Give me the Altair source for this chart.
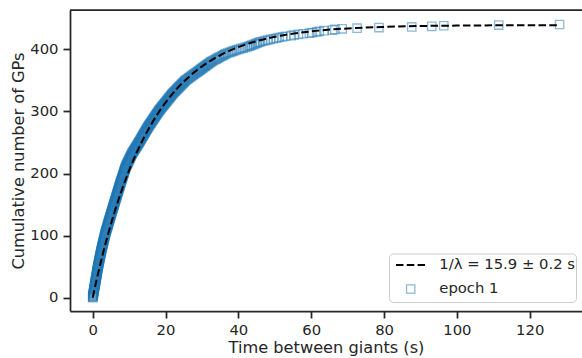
import altair as alt
import pandas as pd

# Sorted waiting times between giant pulses (s)
gap_times = [
    0.00, 0.02, 0.05, 0.08, 0.11, 0.14, 0.17, 0.20, 0.23, 0.26,
    0.29, 0.32, 0.35, 0.38, 0.41, 0.43, 0.46, 0.49, 0.52, 0.55,
    0.58, 0.61, 0.64, 0.67, 0.70, 0.72, 0.75, 0.78, 0.81, 0.84,
    0.87, 0.90, 0.93, 0.96, 0.99, 1.01, 1.04, 1.07, 1.10, 1.13,
    1.16, 1.19, 1.22, 1.25, 1.28, 1.30, 1.33, 1.36, 1.39, 1.42,
    1.45,
    1.49, 1.52, 1.56, 1.59, 1.63, 1.66, 1.70, 1.73, 1.77, 1.80,
    1.84, 1.87, 1.91, 1.94, 1.98, 2.01, 2.05, 2.08, 2.12, 2.15,
    2.19, 2.22, 2.26, 2.29, 2.33, 2.36, 2.40,
    2.44, 2.48, 2.52, 2.56, 2.60, 2.64, 2.68, 2.72, 2.76, 2.81,
    2.85, 2.89, 2.93, 2.97, 3.01, 3.05, 3.09, 3.13, 3.17, 3.21,
    3.25, 3.29, 3.33, 3.37, 3.42, 3.46, 3.50,
    3.55, 3.60, 3.65, 3.70, 3.75, 3.80, 3.85, 3.90, 3.95, 4.00,
    4.05, 4.10, 4.15, 4.20, 4.25, 4.30, 4.35, 4.40, 4.45, 4.50,
    4.55, 4.60, 4.65, 4.70, 4.75, 4.80,
    4.85, 4.90, 4.96, 5.01, 5.06, 5.11, 5.16, 5.21, 5.27, 5.32,
    5.37, 5.42, 5.47, 5.52, 5.58, 5.63, 5.68, 5.73, 5.78, 5.83,
    5.89, 5.94, 5.99, 6.04, 6.09, 6.15, 6.20,
    6.25, 6.30, 6.36, 6.41, 6.46, 6.51, 6.56, 6.61, 6.67, 6.72,
    6.77, 6.82, 6.87, 6.92, 6.98, 7.03, 7.08, 7.13, 7.18, 7.23,
    7.29, 7.34, 7.39, 7.44, 7.49, 7.55, 7.60,
    7.66, 7.71, 7.77, 7.82, 7.88, 7.93, 7.99, 8.04, 8.10, 8.16,
    8.21, 8.27, 8.32, 8.38, 8.43, 8.49, 8.54, 8.60, 8.66, 8.71,
    8.77, 8.82, 8.88, 8.93, 8.99, 9.04, 9.10,
    9.18, 9.26, 9.34, 9.42, 9.50, 9.58, 9.67, 9.75, 9.83, 9.91,
    9.99, 10.07, 10.15, 10.23, 10.31, 10.39, 10.48, 10.56, 10.64, 10.72,
    10.80,
    10.91, 11.01, 11.12, 11.22, 11.33, 11.44, 11.54, 11.65, 11.75, 11.86,
    11.96, 12.07, 12.18, 12.28, 12.39, 12.49, 12.60,
    12.70, 12.80, 12.90, 13.00, 13.10, 13.20, 13.30, 13.40, 13.50, 13.60,
    13.70, 13.80, 13.90, 14.00, 14.10, 14.20, 14.30, 14.40, 14.50, 14.60,
    14.70, 14.80, 14.90, 15.00, 15.10, 15.20,
    15.31, 15.43, 15.54, 15.66, 15.77, 15.89, 16.00, 16.12, 16.23, 16.35,
    16.46, 16.58, 16.69, 16.81, 16.92, 17.04, 17.15, 17.27, 17.38, 17.50,
    17.61, 17.73, 17.84, 17.96, 18.07, 18.19, 18.30,
    18.44, 18.57, 18.71, 18.85, 18.98, 19.12, 19.26, 19.40, 19.53, 19.67,
    19.81, 19.94, 20.08, 20.22, 20.36, 20.49, 20.63, 20.77, 20.90, 21.04,
    21.18, 21.32, 21.45, 21.59, 21.73, 21.86, 22.00,
    22.17, 22.33, 22.50, 22.67, 22.83, 23.00, 23.17, 23.33, 23.50, 23.67,
    23.83, 24.00, 24.17, 24.33, 24.50, 24.67, 24.83, 25.00, 25.17, 25.33,
    25.50,
    25.7, 26.0, 26.2, 26.4, 26.7, 26.9, 27.1, 27.4, 27.6, 27.8,
    28.1, 28.3, 28.6, 28.8, 29.0, 29.3, 29.5,
    29.7, 30.0, 30.2, 30.4, 30.7, 30.9, 31.1, 31.4, 31.6, 31.8,
    32.1, 32.3, 32.5,
    32.8, 33.1, 33.5, 33.8, 34.1, 34.4, 34.7, 35.0, 35.4, 35.7,
    36.0, 36.3, 36.6,
    37.1, 37.6, 38.1, 38.5, 39.0, 39.5,
    40.1, 40.7, 41.3, 41.9, 42.5,
    43.0, 43.4, 43.8, 44.3, 44.7, 45.1, 45.6, 46.0,
    46.7, 47.4, 48.1, 48.8, 49.6, 50.4, 51.2,
    52.1, 53.0, 54.5, 55.3, 56.5, 57.8, 59.5, 60.3, 61.5, 62.2,
    63.5, 65.8, 66.5, 68.5, 72.6, 78.6, 87.6, 93.1, 96.4, 111.5,
    128.2,
]
cumulative_counts = list(range(len(gap_times)))

# Exponential fit curve (1/lambda = 15.9 s)
fit_t = [0, 1, 2, 3, 4, 5, 6, 8, 10, 12, 14, 16, 18, 20, 23, 26, 30, 35,
         40, 45, 50, 60, 70, 80, 100, 128]
fit_n = [0, 26.8, 51.9, 75.5, 97.6, 118.4, 138.0, 173.6, 204.9, 232.6,
         257.0, 278.5, 297.5, 314.2, 335.7, 353.4, 372.4, 390.4, 403.5,
         413.1, 420.1, 428.9, 433.6, 436.1, 438.2, 438.9]

x_ticks = [0, 20, 40, 60, 80, 100, 120]
y_ticks = [0, 100, 200, 300, 400]
legend_labels = ["1/λ = 15.9 ± 0.2 s", "epoch 1"]

INK = "#262626"
BLUE = "#1f77b4"
W, H = 512, 301

pts = pd.DataFrame({"t": gap_times, "n": cumulative_counts})
fit = pd.DataFrame({"t": fit_t, "n": fit_n})
one = pd.DataFrame({"a": [0]})

xs = alt.Scale(domain=[-6.23, 134.35], nice=False, zero=False)
ys = alt.Scale(domain=[-21.4, 463.3], nice=False, zero=False)

points = alt.Chart(pts).mark_point(
    shape="square", filled=False, size=70, strokeWidth=1.3, opacity=0.5, color=BLUE
).encode(
    x=alt.X("t:Q", scale=xs, axis=alt.Axis(title="Time between giants (s)", values=x_ticks,
                                           labelPadding=4.5, titlePadding=2.5)),
    y=alt.Y("n:Q", scale=ys, axis=alt.Axis(title="Cumulative number of GPs", values=y_ticks,
                                           labelPadding=5, titlePadding=3)),
)

fit_line = alt.Chart(fit).mark_line(
    color="black", strokeDash=[7.5, 3.3], strokeWidth=2, interpolate="monotone"
).encode(x=alt.X("t:Q", scale=xs), y=alt.Y("n:Q", scale=ys))

top_spine = alt.Chart(one).mark_rule(color=INK, strokeWidth=1.75).encode(
    x=alt.value(0), x2=alt.value(W), y=alt.value(0))

leg_box = alt.Chart(one).mark_rect(
    fill="white", fillOpacity=0.8, stroke="#cccccc", strokeWidth=1, cornerRadius=4
).encode(x=alt.value(319.5), x2=alt.value(506.5), y=alt.value(244), y2=alt.value(292.5))

leg_line = alt.Chart(one).mark_rule(color="black", strokeDash=[7.5, 3.3], strokeWidth=2).encode(
    x=alt.value(326), x2=alt.value(355), y=alt.value(255))

leg_sq = alt.Chart(one).mark_point(
    shape="square", filled=False, size=70, strokeWidth=1.3, opacity=0.5, color=BLUE
).encode(x=alt.value(340.7), y=alt.value(279))

leg_t1 = alt.Chart(one).mark_text(
    align="left", baseline="middle", font="DejaVu Sans", fontSize=14.8, color=INK
).encode(x=alt.value(369.3), y=alt.value(255), text=alt.value(legend_labels[0]))

leg_t2 = alt.Chart(one).mark_text(
    align="left", baseline="middle", font="DejaVu Sans", fontSize=14.8, color=INK
).encode(x=alt.value(369.3), y=alt.value(279), text=alt.value(legend_labels[1]))

chart = alt.layer(
    points, fit_line, top_spine, leg_box, leg_line, leg_sq, leg_t1, leg_t2
).properties(
    width=W, height=H,
    padding={"left": 70, "top": 10, "right": 0, "bottom": 47},
    autosize=alt.AutoSizeParams(type="none"),
    background="white",
).configure_view(stroke=None).configure_axis(
    grid=False,
    domainColor=INK, domainWidth=1.75,
    tickColor=INK, tickWidth=1.75, tickSize=7,
    labelFont="DejaVu Sans", labelFontSize=14.8, labelColor=INK,
    titleFont="DejaVu Sans", titleFontSize=16.2, titleColor=INK, titleFontWeight="normal",
)

chart.save("out.html", embed_options={"renderer": "svg", "actions": False})
